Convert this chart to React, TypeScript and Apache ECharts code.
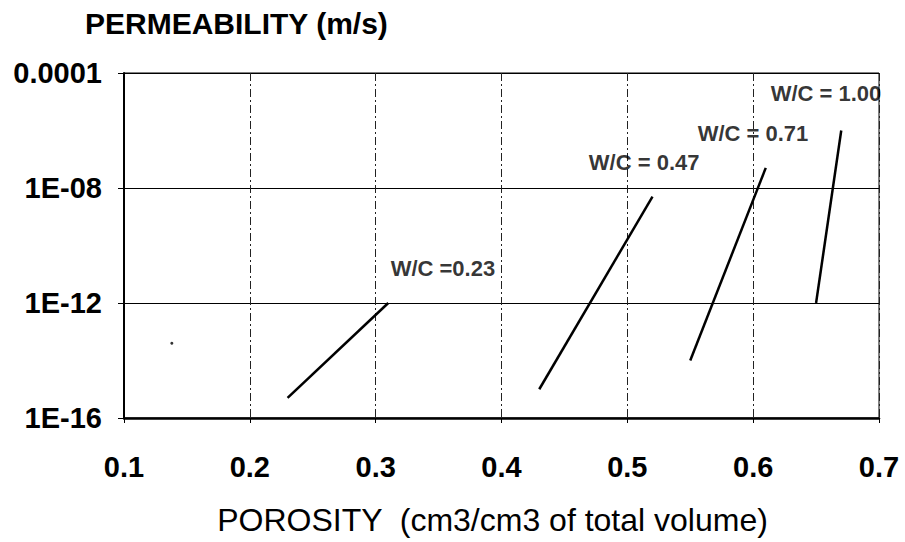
import React, { useEffect, useRef } from "react";
import * as echarts from "echarts";

const FONT = "'Liberation Sans', Arial, Helvetica, sans-serif";

// x ticks (porosity)
const xTicks = [0.1, 0.2, 0.3, 0.4, 0.5, 0.6, 0.7];
// y tick labels (permeability, log scale)
const yTickLabels: Record<string, string> = {
  "-16": "1E-16",
  "-12": "1E-12",
  "-8": "1E-08",
  "-4": "0.0001",
};

// series: [porosity, permeability]
const wc023: [number, number][] = [
  [0.23, 5e-16],
  [0.31, 1e-12],
];
const wc047: [number, number][] = [
  [0.43, 1e-15],
  [0.52, 5e-9],
];
const wc071: [number, number][] = [
  [0.55, 1e-14],
  [0.61, 5e-8],
];
const wc100: [number, number][] = [
  [0.65, 1e-12],
  [0.67, 1e-6],
];
// stray dot in the plot
const strayDot: [number, number][] = [[0.138, 4e-14]];

// annotation labels
const labelTexts = ["W/C =0.23", "W/C = 0.47", "W/C = 0.71", "W/C = 1.00"];
const labelX = [0.3115, 0.469, 0.5555, 0.6135];
const labelY = [1.6e-11, 8e-8, 7.6e-7, 2e-5];

export default function App() {
  const ref = useRef<HTMLDivElement>(null);

  useEffect(() => {
    document.body.style.margin = "0";
    if (!ref.current) return;
    const chart = echarts.init(ref.current, null, { renderer: "svg" });

    const lineSeries = (data: [number, number][]) => ({
      type: "line",
      data,
      symbol: "none",
      lineStyle: { color: "#000", width: 2.5 },
      silent: true,
      z: 5,
    });

    chart.setOption({
      animation: false,
      backgroundColor: "#fff",
      title: {
        text: "PERMEABILITY (m/s)",
        left: 80,
        top: 3,
        textStyle: { fontFamily: FONT, fontSize: 30, fontWeight: "bold", color: "#000" },
      },
      grid: {
        left: 124,
        right: 26,
        top: 73,
        bottom: 124,
        show: true,
        borderColor: "#000",
        borderWidth: 1,
        backgroundColor: "transparent",
      },
      xAxis: {
        type: "value",
        min: xTicks[0],
        max: xTicks[xTicks.length - 1],
        interval: 0.1,
        name: "POROSITY  (cm3/cm3 of total volume)",
        nameLocation: "middle",
        nameGap: 86,
        nameTextStyle: {
          fontFamily: FONT,
          fontSize: 32,
          color: "#000",
          padding: [0, 18, 0, 0],
        },
        axisLine: { show: true, lineStyle: { color: "#000", width: 2.5 } },
        axisTick: { show: true, length: 5, lineStyle: { color: "#000", width: 1 } },
        axisLabel: {
          fontFamily: FONT,
          fontSize: 29,
          fontWeight: "bold",
          color: "#000",
          margin: 34,
          formatter: (v: number) => v.toFixed(1),
        },
        splitLine: {
          show: true,
          lineStyle: { color: "#222", width: 1, type: [8, 3, 2, 3] },
        },
      },
      yAxis: {
        type: "log",
        logBase: 10,
        min: 1e-16,
        max: 1e-4,
        interval: 4,
        axisLine: { show: true, lineStyle: { color: "#000", width: 2 } },
        axisTick: { show: true, length: 6, lineStyle: { color: "#000", width: 1 } },
        minorTick: { show: false },
        axisLabel: {
          fontFamily: FONT,
          fontSize: 29,
          fontWeight: "bold",
          color: "#000",
          margin: 22,
          formatter: (v: number) => {
            const e = Math.round(Math.log10(v));
            return yTickLabels[String(e)] ?? "";
          },
        },
        splitLine: { show: true, lineStyle: { color: "#000", width: 1, type: "solid" } },
      },
      series: [
        lineSeries(wc023),
        lineSeries(wc047),
        lineSeries(wc071),
        lineSeries(wc100),
        {
          type: "scatter",
          data: strayDot,
          symbolSize: 3,
          itemStyle: { color: "#000" },
          silent: true,
        },
        {
          type: "scatter",
          data: labelTexts.map((t, i) => ({ name: t, value: [labelX[i], labelY[i]] })),
          symbolSize: 1,
          itemStyle: { color: "rgba(0,0,0,0)" },
          silent: true,
          z: 6,
          label: {
            show: true,
            position: "right",
            distance: 0,
            formatter: "{b}",
            fontFamily: FONT,
            fontSize: 22,
            fontWeight: "bold",
            color: "#000",
            textBorderWidth: 0,
          },
        },
      ],
    });

    return () => chart.dispose();
  }, []);

  return <div ref={ref} style={{ width: 905, height: 542 }} />;
}
